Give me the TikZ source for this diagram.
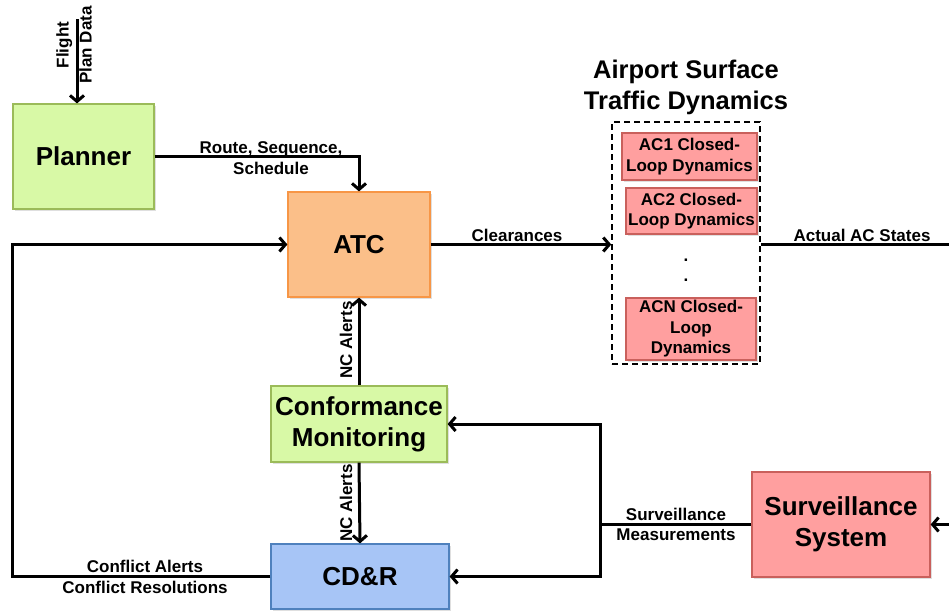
\documentclass[tikz,border=0pt]{standalone}
\usepackage{fontspec}
\setmainfont{Liberation Sans}
\usetikzlibrary{arrows.meta,shadows}

\definecolor{plangreen}{HTML}{D8F9A6}
\definecolor{planedge}{HTML}{9BBB59}
\definecolor{atcorange}{HTML}{FBBF89}
\definecolor{atcedge}{HTML}{F79646}
\definecolor{cdrblue}{HTML}{A7C5F6}
\definecolor{cdredge}{HTML}{4F81BD}
\definecolor{acred}{HTML}{FF9F9F}
\definecolor{acedge}{HTML}{C9605C}

\tikzset{
    block/.style={draw, line width=1.2pt, inner sep=0pt, align=center,
        font=\fontsize{26}{31}\selectfont\bfseries,
        drop shadow={opacity=0.25, shadow xshift=1.5pt, shadow yshift=-1.5pt}},
    acbox/.style={draw=acedge, fill=acred, line width=1.2pt, inner sep=0pt, align=center,
        font=\fontsize{17}{20.5}\selectfont\bfseries,
        drop shadow={opacity=0.25, shadow xshift=1.5pt, shadow yshift=-1.5pt}},
    lbl/.style={font=\fontsize{17}{20.5}\selectfont\bfseries, align=center, inner sep=1pt},
    link/.style={line width=3pt},
    arr/.style={link, -{Straight Barb[length=6pt,width=14pt]}},
}

\begin{document}
\begin{tikzpicture}[x=1pt, y=-1pt]
    \useasboundingbox (0,0) rectangle (949,613);

    \node[block, fill=plangreen, draw=planedge, minimum width=141pt, minimum height=105pt] (planner) at (83.5,156.5) {Planner};
    \node[block, fill=atcorange, draw=atcedge, minimum width=142pt, minimum height=105pt] (atc) at (359,244.5) {ATC};
    \node[block, fill=plangreen, draw=planedge, minimum width=176pt, minimum height=76pt] (cm) at (359,424) {Conformance\\Monitoring};
    \node[block, fill=cdrblue, draw=cdredge, minimum width=178pt, minimum height=65pt] (cdr) at (360,576.5) {CD\&R};
    \node[block, fill=acred, draw=acedge, minimum width=178pt, minimum height=105pt] (surv) at (841,524.5) {Surveillance\\System};

    \node[draw, dashed, line width=1.5pt, dash pattern=on 6pt off 4pt, minimum width=148pt, minimum height=242pt] (dyn) at (686,243) {};
    \node[font=\fontsize{25.5}{31}\selectfont\bfseries, align=center] (dyntitle) at (686,87) {Airport Surface\\Traffic Dynamics};
    \node[acbox, minimum width=135pt, minimum height=47pt] (ac1) at (689.5,156.5) {AC1 Closed-\\Loop Dynamics};
    \node[acbox, minimum width=131pt, minimum height=46pt] (ac2) at (691.5,211) {AC2 Closed-\\Loop Dynamics};
    \node[acbox, minimum width=130pt, minimum height=62pt] (acn) at (691,329) {ACN Closed-\\Loop\\Dynamics};
    \node[lbl] (dot1) at (686,260) {.};
    \node[lbl] (dot2) at (686,280) {.};

    \coordinate (fpd) at (77,19);
    \coordinate (lft) at (12,0);
    \coordinate (outR) at (949,244.5);
    \coordinate (inR) at (949,524.5);
    \coordinate (split) at (600,524.5);

    \draw[arr] (fpd) -- (fpd |- planner.north);
    \node[lbl, rotate=90, font=\fontsize{17}{23}\selectfont\bfseries] (fpdlbl) at (74,45) {Flight\\Plan Data};

    \draw[arr] (planner.east) -| (atc.north);
    \node[lbl] (rsslbl) at (271,158) {Route, Sequence,\\Schedule};

    \draw[arr] (atc.east) -- (atc.east -| dyn.west);
    \node[lbl, anchor=south] (clrlbl) at (517,243) {Clearances};

    \draw[link] (atc.east -| dyn.east) -- (outR);
    \node[lbl, anchor=south] (acslbl) at (862,243) {Actual AC States};

    \draw[arr] (cm.north) -- (atc.south);
    \node[lbl, rotate=90] (nc1lbl) at (346,340) {NC Alerts};

    \draw[arr] (cm.south) -- (cdr.north);
    \node[lbl, rotate=90] (nc2lbl) at (346,503) {NC Alerts};

    \draw[arr] (cdr.west) -- (cdr.west -| lft) |- (atc.west);
    \node[lbl] (conflbl) at (145,577) {Conflict Alerts\\Conflict Resolutions};

    \draw[arr] (inR) -- (surv.east);
    \draw[link] (surv.west) -- (split);
    \draw[arr] (split) |- (cm.east);
    \draw[arr] (split) |- (cdr.east);
    \node[lbl] (smlbl) at (676,524.5) {Surveillance\\Measurements};
\end{tikzpicture}
\end{document}
